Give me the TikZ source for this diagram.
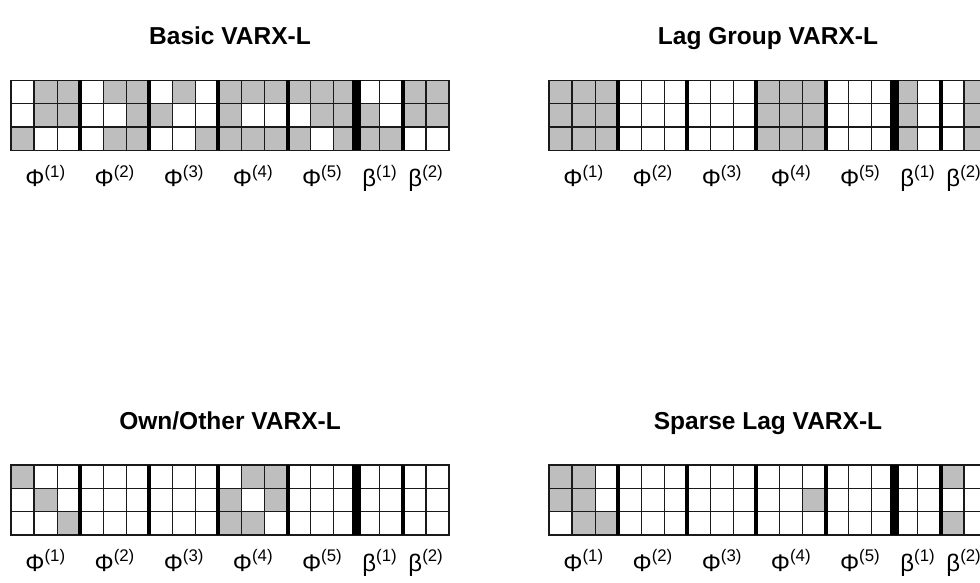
\documentclass[tikz,border=0pt]{standalone}
\usepackage{fontspec}
\setmainfont{Liberation Sans}
\definecolor{CellGrey}{HTML}{BEBEBE}
\definecolor{GridLine}{HTML}{1A1A1A}
\tikzset{
    cellfill/.style={fill=CellGrey},
    gridline/.style={draw=GridLine, line width=1.2pt},
    lagsep/.style={draw=black, line width=4pt},
    exosep/.style={draw=black, line width=9pt},
    paneltitle/.style={font=\bfseries\fontsize{24.5}{27}\selectfont, anchor=base},
    blocklabel/.style={font=\fontsize{24}{26}\selectfont, anchor=base},
}
\def\cw{23.05}
\def\rh{23.33}
% #1 name, #2/#3 top left corner of the grid, #4 title, #5 grey cells (column/row)
\newcommand{\sparsitypanel}[5]{%
    \begin{scope}[shift={(#2,#3)}]
        \node[paneltitle] (#1title) at (219,-36) {#4};
        % Nonzero entries
        \foreach \c/\r in {#5}
            \fill[cellfill] ({\c*\cw},{\r*\rh}) rectangle ++(\cw,\rh);
        % Cell borders
        \foreach \c in {1,...,18}
            \draw[gridline] ({\c*\cw},0) -- ({\c*\cw},70);
        \foreach \r in {1,2}
            \draw[gridline] (0,{\r*\rh}) -- (438,{\r*\rh});
        \draw[gridline] (0,0) rectangle (438,70);
        % Lag separators
        \foreach \c in {3,6,9,12,17}
            \draw[lagsep] ({\c*\cw},0) -- ({\c*\cw},70);
        \draw[exosep] ({15*\cw},0) -- ({15*\cw},70);
        % Labels
        \foreach \k in {1,...,5}
            \node[blocklabel] (#1phi\k) at ({(3*\k-1.5)*\cw},106) {Φ\textsuperscript{(\k)}};
        \node[blocklabel] (#1beta1) at ({16*\cw},106) {β\textsuperscript{(1)}};
        \node[blocklabel] (#1beta2) at ({18*\cw},106) {β\textsuperscript{(2)}};
    \end{scope}%
}

\begin{document}
\begin{tikzpicture}[x=1pt, y=-1pt]
    \path[use as bounding box] (0,0) rectangle (980,583);
    \clip (0,0) rectangle (980,583);

    % Basic
    \sparsitypanel{basic}{11}{80.3}{Basic VARX-L}{1/0,2/0,1/1,2/1,0/2,
        4/0,5/0,5/1,4/2,5/2, 7/0,6/1,8/2,
        9/0,10/0,11/0,9/1,9/2,10/2,11/2,
        12/0,13/0,14/0,13/1,14/1,12/2,14/2,
        15/1,15/2,16/2, 17/0,18/0,17/1,18/1}

    % Lag group
    \sparsitypanel{lag}{549}{80.3}{Lag Group VARX-L}{0/0,1/0,2/0,0/1,1/1,2/1,0/2,1/2,2/2,
        9/0,10/0,11/0,9/1,10/1,11/1,9/2,10/2,11/2,
        15/0,15/1,15/2, 18/0,18/1,18/2}

    % Own/Other
    \sparsitypanel{own}{11}{465}{Own/Other VARX-L}{0/0,1/1,2/2,
        10/0,11/0,9/1,11/1,9/2,10/2}

    % Sparse lag
    \sparsitypanel{sparse}{549}{465}{Sparse Lag VARX-L}{0/0,1/0,0/1,1/1,1/2,2/2,
        11/1, 17/0,17/2}
\end{tikzpicture}
\end{document}
